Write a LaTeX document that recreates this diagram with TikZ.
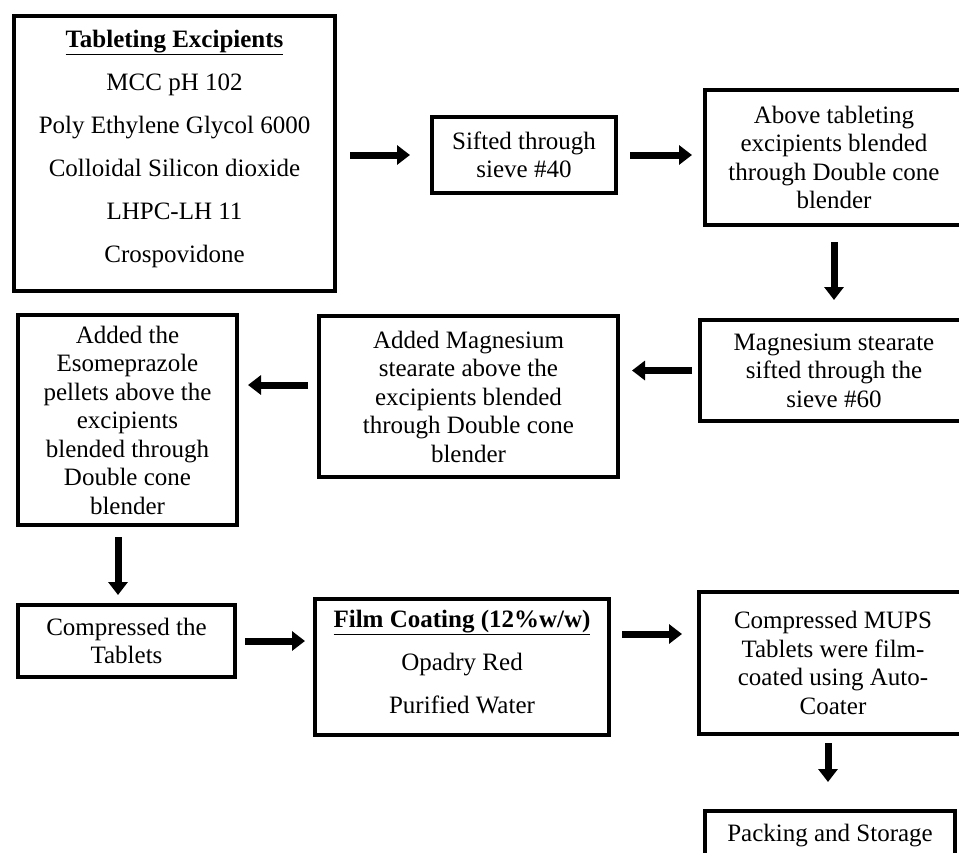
\documentclass[tikz,border=0pt]{standalone}
\usepackage{fontspec}
\setmainfont{Liberation Serif}
\usetikzlibrary{arrows.meta,calc}
\begin{document}
\begin{tikzpicture}[x=1pt,y=-1pt,
  box/.style={draw, line width=4pt, align=center, inner sep=0pt,
    font=\fontsize{25}{28.5}\selectfont},
  arr/.style={line width=7pt, -{Triangle[length=13pt,width=19pt]}}]
\useasboundingbox (0,0) rectangle (959,852);
\clip (0,0) rectangle (959,852);
\fill[white] (0,0) rectangle (959,852);

\node[box, minimum width=321pt, minimum height=275pt, text depth=14pt] (b1) at (174.5,153.5)
  {\underline{\textbf{Tableting Excipients}}\\[14.5pt]
   MCC pH 102\\[14.5pt]
   Poly Ethylene Glycol 6000\\[14.5pt]
   Colloidal Silicon dioxide\\[14.5pt]
   LHPC-LH 11\\[14.5pt]
   Crospovidone};
\node[box, minimum width=184pt, minimum height=76pt] (b2) at (524,155)
  {Sifted through\\sieve \#40};
\node[box, minimum width=258pt, minimum height=135pt] (b3) at (834,157.5)
  {Above tableting\\excipients blended\\through Double cone\\blender};
\node[box, minimum width=268pt, minimum height=101pt] (b4) at (834,370.5)
  {Magnesium stearate\\sifted through the\\sieve \#60};
\node[box, minimum width=299pt, minimum height=161pt] (b5) at (468.5,396.5)
  {Added Magnesium\\stearate above the\\excipients blended\\through Double cone\\blender};
\node[box, minimum width=219pt, minimum height=210pt] (b6) at (127.5,420)
  {Added the\\Esomeprazole\\pellets above the\\excipients\\blended through\\Double cone\\blender};
\node[box, minimum width=217pt, minimum height=72pt] (b7) at (126.5,641)
  {Compressed the\\Tablets};
\node[box, minimum width=294pt, minimum height=136pt, text depth=11pt] (b8) at (462,667)
  {\underline{\textbf{Film Coating (12\%w/w)}}\\[14.5pt]
   Opadry Red\\[14.5pt]
   Purified Water};
\node[box, minimum width=268pt, minimum height=142pt] (b9) at (833,663)
  {Compressed MUPS\\Tablets were film-\\coated using Auto-\\Coater};
\node[box, minimum width=250pt, minimum height=66pt, text depth=22pt] (b10) at (830,844)
  {Packing and Storage};

\coordinate (a5) at ([yshift=11.5pt]b5.west);
\coordinate (a6) at ([xshift=-9.5pt]b6.south);
\coordinate (a8) at ([yshift=33pt]b8.east);
\coordinate (a9) at ([xshift=-5pt]b9.south);

\draw[arr, shorten <=13pt, shorten >=20pt] (b1.east |- b2.west) -- (b2.west);
\draw[arr, shorten <=12pt, shorten >=11pt] (b2.east) -- (b2.east -| b3.west);
\draw[arr, shorten <=15pt, shorten >=18pt] (b3.south) -- (b4.north);
\draw[arr, shorten <=6pt, shorten >=12pt] (b4.west) -- (b4.west -| b5.east);
\draw[arr, shorten <=9pt, shorten >=9pt] (a5) -- (a5 -| b6.east);
\draw[arr, shorten <=10pt, shorten >=8pt] (a6) -- (a6 |- b7.north);
\draw[arr, shorten <=8pt, shorten >=8pt] (b7.east) -- (b7.east -| b8.west);
\draw[arr, shorten <=11pt, shorten >=15pt] (a8) -- (a8 -| b9.west);
\draw[arr, shorten <=7pt, shorten >=27pt] (a9) -- (a9 |- b10.north);
\end{tikzpicture}
\end{document}
